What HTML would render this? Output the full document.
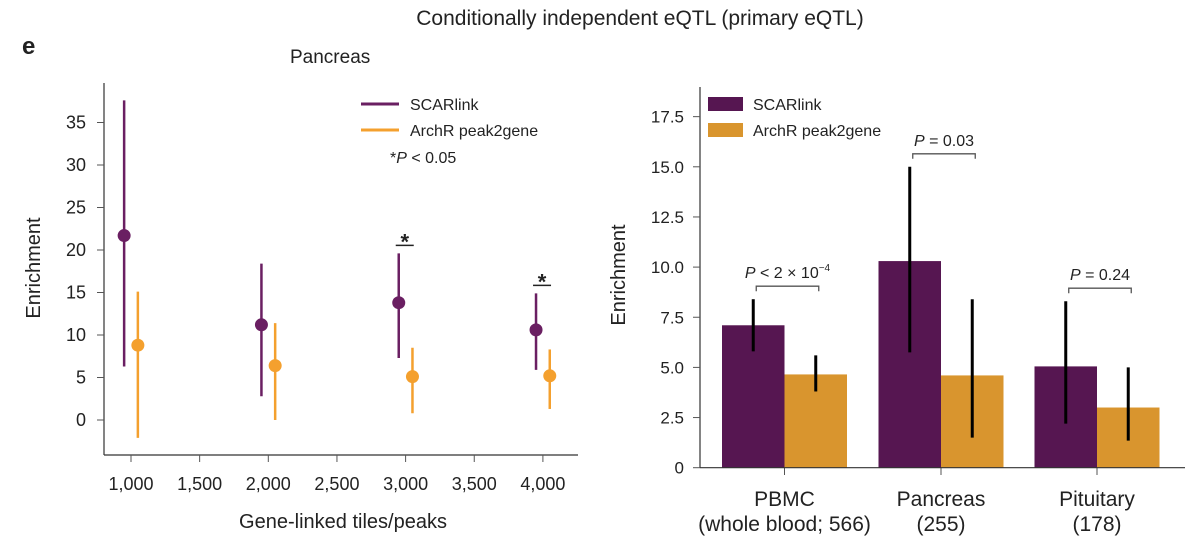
<!DOCTYPE html>
<html><head><meta charset="utf-8"><style>
body{margin:0;background:#fff;}
svg text{font-family:"Liberation Sans",sans-serif;fill:#222;}
</style></head><body>
<svg width="1185" height="547" viewBox="0 0 1185 547" xmlns="http://www.w3.org/2000/svg" id="root">
<text x="640" y="25" font-size="21" text-anchor="middle">Conditionally independent eQTL (primary eQTL)</text>
<text x="22" y="54" font-size="24" font-weight="bold">e</text>
<text x="290" y="63" font-size="19">Pancreas</text>
<g id="left"></g>
<g id="right"></g>
</svg>
<script>
const NS="http://www.w3.org/2000/svg";
function mk(p,t,a,txt){const e=document.createElementNS(NS,t);for(const k in a)e.setAttribute(k,a[k]);if(txt!==undefined)e.textContent=txt;p.appendChild(e);return e;}
// ---- left chart data
const leftX=[1000,2000,3000,4000];
const scarMean=[21.7,11.2,13.8,10.6];
const scarLo=[6.3,2.8,7.3,5.9];
const scarHi=[37.6,18.4,19.6,14.9];
const archMean=[8.8,6.4,5.1,5.2];
const archLo=[-2.1,0,0.8,1.3];
const archHi=[15.1,11.4,8.5,8.3];
const leftSig=[false,false,true,true];
const leftYTicks=[0,5,10,15,20,25,30,35];
const leftXTicks=[1000,1500,2000,2500,3000,3500,4000];
// ---- right chart data
const groups=["PBMC","Pancreas","Pituitary"];
const groupSub=["(whole blood; 566)","(255)","(178)"];
const barScar=[7.1,10.3,5.05];
const barScarLo=[5.8,5.75,2.2];
const barScarHi=[8.4,15.0,8.3];
const barArch=[4.65,4.6,3.0];
const barArchLo=[3.8,1.5,1.35];
const barArchHi=[5.6,8.4,5.0];
const pLabels=["P < 2 × 10","P = 0.03","P = 0.24"];
const rightYTicks=[0,2.5,5,7.5,10,12.5,15,17.5];
const rightYLabels=["0","2.5","5.0","7.5","10.0","12.5","15.0","17.5"];

const L=document.getElementById('left');
const lx=v=>131+(v-1000)*0.1373;
const ly=v=>420-v*8.5;
const PUR="#6a1f62",ORA="#f4a02e";
let e;
e=mk(L,'line',{x1:104,y1:83,x2:104,y2:455,stroke:'#333','stroke-width':1.2});


e=mk(L,'line',{x1:104,y1:455,x2:578,y2:455,stroke:'#333','stroke-width':1.2});


leftYTicks.forEach(v=>{
  mk(L,'line',{x1:97,x2:104,y1:ly(v),y2:ly(v),stroke:'#555','stroke-width':1});
  e=mk(L,'text',{x:86,y:ly(v)+6,'font-size':18,'text-anchor':'end'},String(v));
  
  
});
leftXTicks.forEach(v=>{
  mk(L,'line',{x1:lx(v),x2:lx(v),y1:455,y2:462,stroke:'#555','stroke-width':1});
  e=mk(L,'text',{x:lx(v),y:490,'font-size':18,'text-anchor':'middle'},v.toLocaleString('en-US'));
  
  
});
e=mk(L,'text',{x:343,y:528,'font-size':20,'text-anchor':'middle'},'Gene-linked tiles/peaks');


e=mk(L,'text',{x:0,y:0,'font-size':20,'text-anchor':'middle',transform:'translate(40,268) rotate(-90)'},'Enrichment');


leftX.forEach((x,i)=>{
  const xs=lx(x-50),xa=lx(x+50);
  e=mk(L,'line',{x1:xs,x2:xs,y1:ly(scarLo[i]),y2:ly(scarHi[i]),stroke:PUR,'stroke-width':2.5});
  
  
  e=mk(L,'circle',{cx:xs,cy:ly(scarMean[i]),r:6.5,fill:PUR});
  
  
  e=mk(L,'line',{x1:xa,x2:xa,y1:ly(archLo[i]),y2:ly(archHi[i]),stroke:ORA,'stroke-width':2.5});
  
  
  e=mk(L,'circle',{cx:xa,cy:ly(archMean[i]),r:6.5,fill:ORA});
  
  
  if(leftSig[i]){
    const yy=ly(scarHi[i])-8;
    mk(L,'line',{x1:xs-3,x2:xs+15,y1:yy,y2:yy,stroke:'#222','stroke-width':1.5});
    e=mk(L,'text',{x:xs+6,y:yy+4,'font-size':22,'text-anchor':'middle','font-weight':'bold'},'*');
    
    
  }
});
mk(L,'line',{x1:361,x2:399,y1:104,y2:104,stroke:PUR,'stroke-width':3});
e=mk(L,'text',{x:410,y:110,'font-size':16},'SCARlink');


mk(L,'line',{x1:361,x2:399,y1:130,y2:130,stroke:ORA,'stroke-width':3});
e=mk(L,'text',{x:410,y:136,'font-size':16},'ArchR peak2gene');


e=mk(L,'text',{x:390,y:163,'font-size':16},'');
e.innerHTML='*<tspan font-style="italic">P</tspan> &lt; 0.05';



// ---- right chart
const R=document.getElementById('right');
const ry=v=>467.7-v*20.06;
const centers=[784.5,941,1097];
const BW=62.5;
e=mk(R,'line',{x1:700,y1:87,x2:700,y2:468,stroke:'#333','stroke-width':1.2});


rightYTicks.forEach((v,i)=>{
  mk(R,'line',{x1:693,x2:700,y1:ry(v),y2:ry(v),stroke:'#555','stroke-width':1});
  e=mk(R,'text',{x:684,y:ry(v)+6,'font-size':17,'text-anchor':'end'},rightYLabels[i]);
  
  
});
e=mk(R,'text',{x:0,y:0,'font-size':20,'text-anchor':'middle',transform:'translate(625,275) rotate(-90)'},'Enrichment');


groups.forEach((g,i)=>{
  const c=centers[i];
  e=mk(R,'rect',{x:c-BW,y:ry(barScar[i]),width:BW,height:ry(0)-ry(barScar[i]),fill:'#561651'});
  
  
  e=mk(R,'rect',{x:c,y:ry(barArch[i]),width:BW,height:ry(0)-ry(barArch[i]),fill:'#d9952e'});
  
  
  e=mk(R,'line',{x1:c-BW/2,x2:c-BW/2,y1:ry(barScarLo[i]),y2:ry(barScarHi[i]),stroke:'#000','stroke-width':3});
  
  
  e=mk(R,'line',{x1:c+BW/2,x2:c+BW/2,y1:ry(barArchLo[i]),y2:ry(barArchHi[i]),stroke:'#000','stroke-width':3});
  
  
  mk(R,'line',{x1:c,x2:c,y1:468,y2:475,stroke:'#555','stroke-width':1});
  e=mk(R,'text',{x:c,y:506,'font-size':21,'text-anchor':'middle'},g);
  
  
  e=mk(R,'text',{x:c,y:531,'font-size':21,'text-anchor':'middle'},groupSub[i]);
  
  
  const top=Math.max(barScarHi[i],barArchHi[i]);
  const by=ry(top)-13;
  const x1=c-BW/2+3,x2=c+BW/2+3;
  e=mk(R,'path',{d:`M${x1},${by+5}V${by}H${x2}V${by+5}`,fill:'none',stroke:'#555','stroke-width':1.3});
  
  
  const parts=pLabels[i].split(' ');
  e=mk(R,'text',{x:c+3,y:by-8,'font-size':16,'text-anchor':'middle'},'');
  e.innerHTML='<tspan font-style="italic">P</tspan> '+parts.slice(1).join(' ')+(i===0?'<tspan font-size="10" dy="-7">−4</tspan>':'');
  
  
});
e=mk(R,'line',{x1:700,y1:467.7,x2:1185,y2:467.7,stroke:'#333','stroke-width':1.2});


e=mk(R,'rect',{x:708,y:97,width:35,height:14,fill:'#561651'});


e=mk(R,'rect',{x:708,y:123,width:35,height:14,fill:'#d9952e'});


e=mk(R,'text',{x:753,y:110,'font-size':16},'SCARlink');


e=mk(R,'text',{x:753,y:136,'font-size':16},'ArchR peak2gene');


</script>
</body></html>
